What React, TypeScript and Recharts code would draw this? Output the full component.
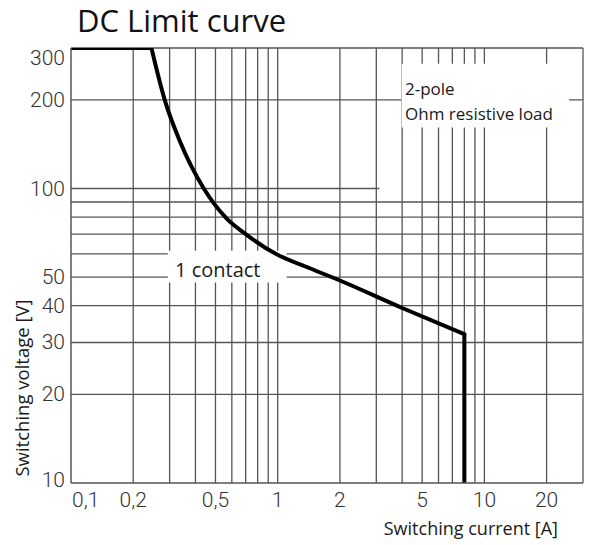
import React from 'react';
import {
  LineChart,
  Line,
  XAxis,
  YAxis,
  CartesianGrid,
  ReferenceArea,
  ReferenceLine,
} from 'recharts';

// switching current [A] / switching voltage [V]
const flatCurrent = [0.1, 0.245];
const flatVoltage = [300, 300];
const curveCurrent = [0.245, 0.284, 0.336, 0.439, 0.491, 0.567, 0.7, 0.978, 1.43, 2, 4.03, 8];
const curveVoltage = [300, 200, 145, 100, 89, 79, 70, 60, 53.6, 48.7, 39.2, 32];
const dropCurrent = [8, 8];
const dropVoltage = [32, 10];

const xTicks = [0.1, 0.2, 0.5, 1, 2, 5, 10, 20];
const yTicks = [10, 20, 30, 40, 50, 100, 200, 300];
const xGrid = [0.2, 0.3, 0.4, 0.5, 0.6, 0.7, 0.8, 0.9, 1, 2, 3, 4, 5, 6, 7, 8, 9, 10, 20, 30];
const yGrid = [20, 30, 40, 50, 60, 70, 80, 90, 200, 300];

const toRows = (xs: number[], ys: number[]) => xs.map((i, k) => ({ i, v: ys[k] }));

const flatData = toRows(flatCurrent, flatVoltage);
const curveData = toRows(curveCurrent, curveVoltage);
const dropData = toRows(dropCurrent, dropVoltage);

const tickFont = "Roboto, 'Liberation Sans Narrow', sans-serif";
const textFont = "'Open Sans', 'Noto Sans', sans-serif";

const XTick = (props: any) => {
  const { x, payload, index } = props;
  const first = index === 0;
  return (
    <text
      x={first ? x + 1 : x}
      y={507}
      textAnchor={first ? 'start' : 'middle'}
      fontFamily={tickFont}
      fontWeight={300}
      fontSize={21}
      fill="#333"
    >
      {String(payload.value).replace('.', ',')}
    </text>
  );
};

const YTick = (props: any) => {
  const { y, payload } = props;
  const dy = payload.value === 300 ? 17 : payload.value === 10 ? 4 : 7;
  return (
    <text x={65} y={y + dy} textAnchor="end" fontFamily={tickFont} fontWeight={300} fontSize={21} fill="#333">
      {payload.value}
    </text>
  );
};

export default function App() {
  return (
    <div style={{ position: 'absolute', left: 0, top: 0, width: 589, height: 545, background: '#fff' }}>
      <LineChart width={589} height={545} margin={{ top: 48, right: 6, bottom: 0, left: 0 }}>
        <CartesianGrid
          horizontalValues={yGrid}
          verticalValues={xGrid}
          stroke="#555"
          strokeWidth={1.3}
        />
        <ReferenceLine
          segment={[{ x: 0.1, y: 100 }, { x: 3.1, y: 100 }]}
          stroke="#555"
          strokeWidth={1.3}
        />
        <ReferenceArea x1={0.294} x2={1.105} y1={48} y2={61.5} fill="#fff" fillOpacity={1} stroke="none" />
        <ReferenceArea x1={3.98} x2={25.7} y1={161} y2={265} fill="#fff" fillOpacity={1} stroke="none" />
        <XAxis
          dataKey="i"
          type="number"
          scale="log"
          domain={[0.1, 30]}
          allowDataOverflow
          ticks={xTicks}
          tick={<XTick />}
          tickLine={false}
          axisLine={{ stroke: '#555', strokeWidth: 1.5 }}
          height={62}
          interval={0}
        />
        <YAxis
          dataKey="v"
          type="number"
          scale="log"
          domain={[10, 300]}
          allowDataOverflow
          ticks={yTicks}
          tick={<YTick />}
          tickLine={false}
          axisLine={{ stroke: '#555', strokeWidth: 1.5 }}
          width={71}
          interval={0}
        />
        <Line data={flatData} dataKey="v" type="linear" stroke="#000" strokeWidth={4} dot={false} isAnimationActive={false} />
        <Line
          data={curveData}
          dataKey="v"
          type="monotoneX"
          stroke="#000"
          strokeWidth={4}
          strokeLinecap="round"
          dot={false}
          isAnimationActive={false}
        />
        <Line data={dropData} dataKey="v" type="linear" stroke="#000" strokeWidth={4} strokeLinecap="round" dot={false} isAnimationActive={false} />
      </LineChart>
      <svg
        width={589}
        height={545}
        style={{ position: 'absolute', left: 0, top: 0, pointerEvents: 'none' }}
      >
        <text x={77} y={32} fontFamily={textFont} fontSize={31} fill="#111">
          DC Limit curve
        </text>
        <text x={175} y={277} fontFamily={textFont} fontSize={20} fill="#1a1a1a">
          1 contact
        </text>
        <text x={405} y={95} fontFamily={textFont} fontSize={17} fill="#1a1a1a">
          2-pole
        </text>
        <text x={405} y={120} fontFamily={textFont} fontSize={17} fill="#1a1a1a">
          Ohm resistive load
        </text>
        <text
          x={29}
          y={388}
          transform="rotate(-90 29 388)"
          textAnchor="middle"
          fontFamily={textFont}
          fontSize={18.5}
          fill="#1a1a1a"
        >
          Switching voltage [V]
        </text>
        <text x={558} y={535} textAnchor="end" fontFamily={textFont} fontSize={18} fill="#1a1a1a">
          Switching current [A]
        </text>
      </svg>
    </div>
  );
}
